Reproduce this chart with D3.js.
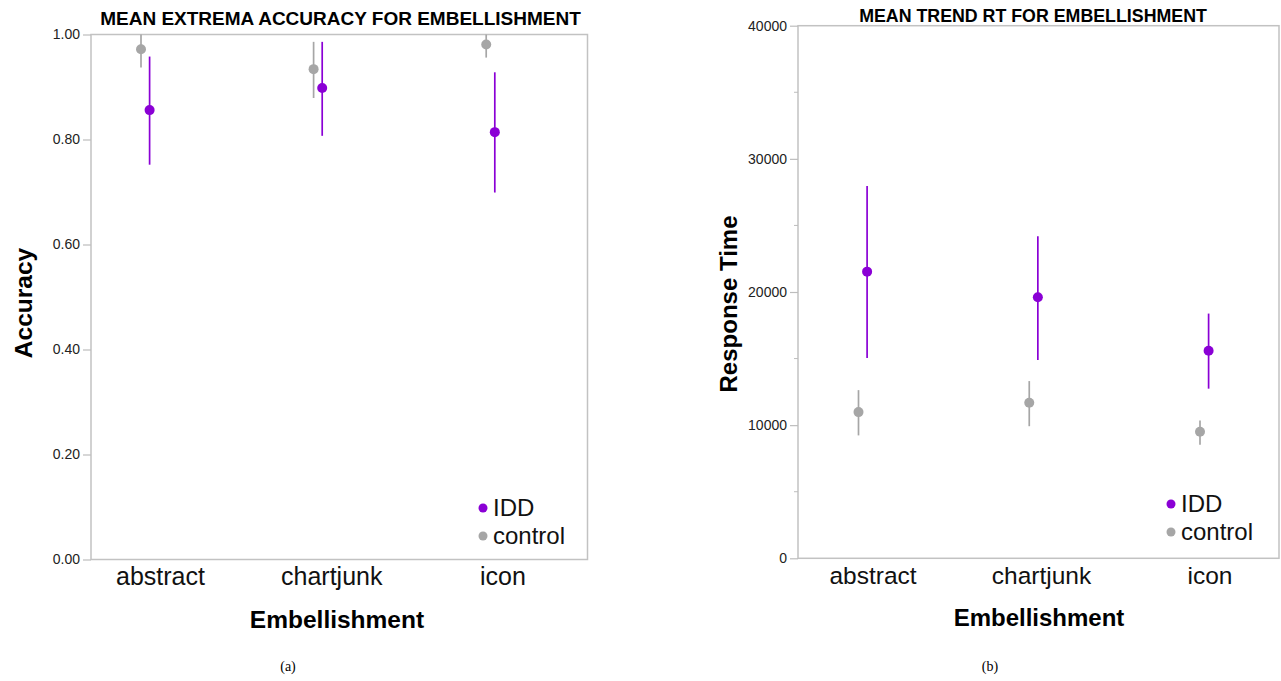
<!DOCTYPE html>
<html>
<head>
<meta charset="utf-8">
<script src="https://cdn.jsdelivr.net/npm/d3@7"></script>
<style>
  body { margin: 0; background: #fff; }
  svg { display: block; font-family: "Liberation Sans", Arial, Helvetica, sans-serif; }
</style>
</head>
<body>
<svg id="chart" width="1281" height="681"></svg>
<script>
// values
var categories = ["abstract", "chartjunk", "icon"];
var groups = ["IDD", "control"];

var accIDD = [0.856, 0.898, 0.814];
var accIDDLo = [0.752, 0.807, 0.699];
var accIDDHi = [0.958, 0.986, 0.928];
var accCtl = [0.972, 0.934, 0.981];
var accCtlLo = [0.937, 0.879, 0.956];
var accCtlHi = [1.0, 0.986, 1.0];

var rtIDD = [21530, 19600, 15590];
var rtIDDLo = [15040, 14890, 12740];
var rtIDDHi = [27970, 24190, 18380];
var rtCtl = [10980, 11680, 9500];
var rtCtlLo = [9230, 9920, 8530];
var rtCtlHi = [12630, 13310, 10350];

var accTicks = [0, 0.2, 0.4, 0.6, 0.8, 1.0];
var rtTicks = [0, 10000, 20000, 30000, 40000];
var rtMinor = [5000, 15000, 25000, 35000];

var colors = { IDD: "#8a00d5", control: "#a6a6a6" };

var svg = d3.select("#chart");

function rows(mean, lo, hi, group) {
    return categories.map(function (c, i) {
        return { cat: c, group: group, mean: mean[i], lo: lo[i], hi: hi[i] };
    });
}

function drawPanel(cfg) {
    var g = svg.append("g");
    var y = d3.scaleLinear().domain(cfg.domain).range([cfg.bottom, cfg.top]);
    var xMark = d3.scalePoint().domain(categories).range(cfg.markRange);
    var xLabel = d3.scalePoint().domain(categories).range(cfg.labelRange);
    var dodge = d3.scalePoint().domain(["control", "IDD"]).range([-4.3, 4.3]);

    // frame
    g.append("rect")
        .attr("x", cfg.left).attr("y", cfg.top)
        .attr("width", cfg.right - cfg.left).attr("height", cfg.bottom - cfg.top)
        .attr("fill", "none").attr("stroke", "#c2c2c2").attr("stroke-width", 1.5);

    // y axis
    var yAxis = g.append("g")
        .attr("transform", "translate(" + cfg.left + ",0)")
        .call(d3.axisLeft(y).tickValues(cfg.ticks).tickFormat(cfg.format).tickSize(8).tickPadding(3));
    yAxis.select(".domain").remove();
    yAxis.selectAll(".tick line").attr("stroke", "#bdbdbd").attr("stroke-width", 1.2);
    yAxis.selectAll(".tick text").attr("font-size", 14).attr("fill", "#222")
        .attr("font-family", "Liberation Sans, Arial, sans-serif");

    if (cfg.minor) {
        g.selectAll(".minor").data(cfg.minor).enter().append("line")
            .attr("x1", cfg.left - 4).attr("x2", cfg.left)
            .attr("y1", function (d) { return y(d); })
            .attr("y2", function (d) { return y(d); })
            .attr("stroke", "#bdbdbd").attr("stroke-width", 1);
    }

    // category labels
    g.selectAll(".cat").data(categories).enter().append("text")
        .attr("x", function (d) { return xLabel(d); })
        .attr("y", cfg.labelY)
        .attr("text-anchor", "middle")
        .attr("font-size", cfg.catSize)
        .attr("fill", "#111")
        .text(function (d) { return d; });

    // titles
    g.append("text")
        .attr("x", cfg.titleX).attr("y", cfg.titleY)
        .attr("text-anchor", "middle").attr("font-weight", "bold")
        .attr("font-size", cfg.titleSize).attr("fill", "#000")
        .text(cfg.title);

    g.append("text")
        .attr("x", cfg.xTitleX).attr("y", cfg.xTitleY)
        .attr("text-anchor", "middle").attr("font-weight", "bold")
        .attr("font-size", cfg.axisTitleSize).attr("fill", "#000")
        .text("Embellishment");

    g.append("text")
        .attr("transform", "translate(" + cfg.yTitleX + "," + cfg.yTitleY + ") rotate(-90)")
        .attr("text-anchor", "middle").attr("font-weight", "bold")
        .attr("font-size", cfg.axisTitleSize).attr("fill", "#000")
        .text(cfg.yTitle);

    g.append("text")
        .attr("x", cfg.captionX).attr("y", 671)
        .attr("text-anchor", "middle")
        .attr("font-family", "Liberation Serif, Times New Roman, serif")
        .attr("font-size", 14).attr("fill", "#000")
        .text(cfg.caption);

    // error bars and means
    var data = cfg.data;
    var marks = g.append("g");
    marks.selectAll("line.err").data(data).enter().append("line")
        .attr("class", "err")
        .attr("x1", function (d) { return xMark(d.cat) + dodge(d.group); })
        .attr("x2", function (d) { return xMark(d.cat) + dodge(d.group); })
        .attr("y1", function (d) { return y(d.lo); })
        .attr("y2", function (d) { return y(d.hi); })
        .attr("stroke", function (d) { return colors[d.group]; })
        .attr("stroke-width", 1.7);

    marks.selectAll("circle.mean").data(data).enter().append("circle")
        .attr("class", "mean")
        .attr("cx", function (d) { return xMark(d.cat) + dodge(d.group); })
        .attr("cy", function (d) { return y(d.mean); })
        .attr("r", 5)
        .attr("fill", function (d) { return colors[d.group]; });

    // legend
    var leg = g.selectAll(".leg").data(groups).enter().append("g")
        .attr("transform", function (d, i) {
            return "translate(" + cfg.legendX + "," + (cfg.legendY + i * cfg.legendStep) + ")";
        });
    leg.append("circle").attr("r", 4.5).attr("cy", -8)
        .attr("fill", function (d) { return colors[d]; });
    leg.append("text").attr("x", 10).attr("font-size", cfg.legendSize).attr("fill", "#111")
        .text(function (d) { return d; });
}

drawPanel({
    left: 91, right: 587.5, top: 34.5, bottom: 559.5,
    domain: [0, 1], ticks: accTicks, format: d3.format(".2f"),
    markRange: [145.3, 490.5], labelRange: [160.5, 503], labelY: 585,
    catSize: 25, titleSize: 19, axisTitleSize: 24.5,
    title: "MEAN EXTREMA ACCURACY FOR EMBELLISHMENT", titleX: 340.5, titleY: 25,
    xTitleX: 337, xTitleY: 628, yTitle: "Accuracy", yTitleX: 32, yTitleY: 303,
    caption: "(a)", captionX: 288,
    legendX: 483, legendY: 516, legendStep: 28, legendSize: 24,
    data: rows(accCtl, accCtlLo, accCtlHi, "control").concat(rows(accIDD, accIDDLo, accIDDHi, "IDD"))
});

drawPanel({
    left: 798, right: 1279, top: 25.7, bottom: 558.3,
    domain: [0, 40000], ticks: rtTicks, minor: rtMinor, format: d3.format("d"),
    markRange: [862.8, 1204.3], labelRange: [873, 1210], labelY: 584,
    catSize: 24.5, titleSize: 17.8, axisTitleSize: 24,
    title: "MEAN TREND RT FOR EMBELLISHMENT", titleX: 1033, titleY: 22,
    xTitleX: 1039, xTitleY: 626, yTitle: "Response Time", yTitleX: 737, yTitleY: 304,
    caption: "(b)", captionX: 990,
    legendX: 1171, legendY: 512, legendStep: 28, legendSize: 24,
    data: rows(rtCtl, rtCtlLo, rtCtlHi, "control").concat(rows(rtIDD, rtIDDLo, rtIDDHi, "IDD"))
});
</script>
</body>
</html>
